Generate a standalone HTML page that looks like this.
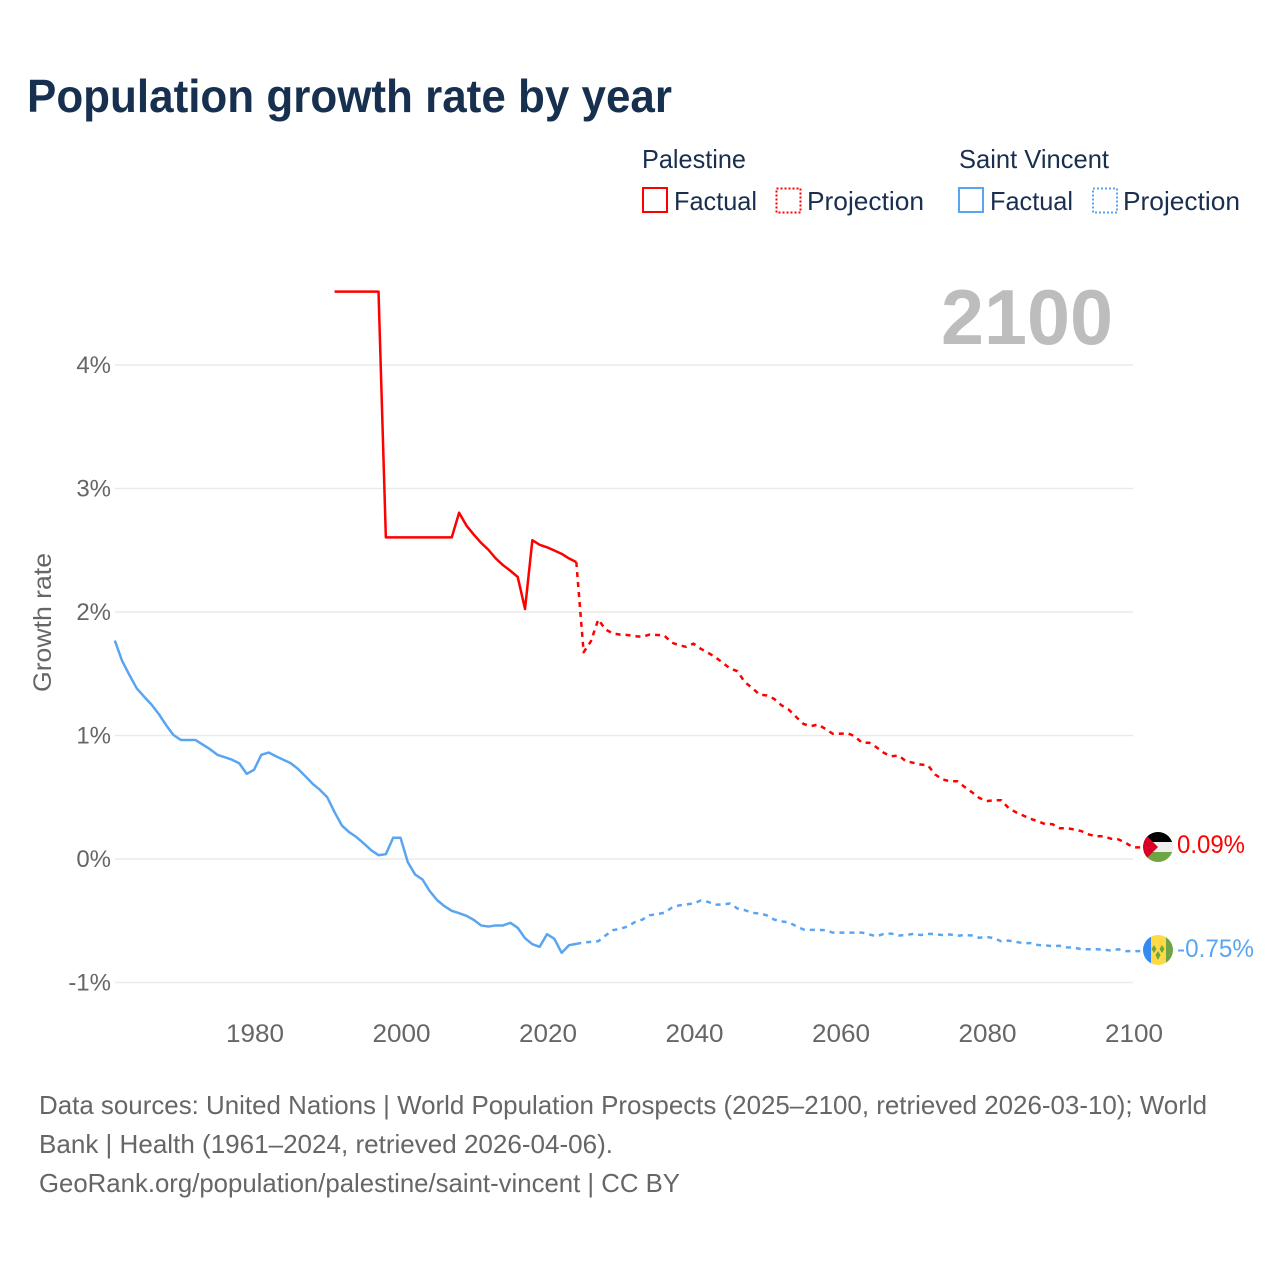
<!DOCTYPE html>
<html lang="en">
<head>
<meta charset="utf-8">
<title>Population growth rate by year</title>
<style>
  html, body { margin: 0; padding: 0; background: #fff; }
  svg { display: block; font-family: "Liberation Sans", sans-serif; }
</style>
</head>
<body>
<svg id="chart" width="1280" height="1280" viewBox="0 0 1280 1280" xmlns="http://www.w3.org/2000/svg">
  <rect width="1280" height="1280" fill="#ffffff"/>
  <text x="27" y="112" font-size="46" font-weight="700" fill="#18304f" textLength="645" lengthAdjust="spacingAndGlyphs">Population growth rate by year</text>

  <g font-size="26" fill="#1a2f4f">
    <text x="642" y="168" textLength="104" lengthAdjust="spacingAndGlyphs">Palestine</text>
    <text x="959" y="168" textLength="150" lengthAdjust="spacingAndGlyphs">Saint Vincent</text>
    <rect x="643" y="188" width="24" height="24" fill="none" stroke="#ff0000" stroke-width="2"/>
    <text x="674" y="210" textLength="83" lengthAdjust="spacingAndGlyphs">Factual</text>
    <rect x="776.5" y="188.5" width="24" height="24" fill="none" stroke="#ff0000" stroke-width="2" stroke-dasharray="2 2"/>
    <text x="807" y="210" textLength="117" lengthAdjust="spacingAndGlyphs">Projection</text>
    <rect x="959" y="188" width="24" height="24" fill="none" stroke="#5aa5f0" stroke-width="2"/>
    <text x="990" y="210" textLength="83" lengthAdjust="spacingAndGlyphs">Factual</text>
    <rect x="1093" y="188.5" width="24" height="24" fill="none" stroke="#5aa5f0" stroke-width="2" stroke-dasharray="2 2"/>
    <text x="1123" y="210" textLength="117" lengthAdjust="spacingAndGlyphs">Projection</text>
  </g>

  <g id="grid"></g>
  <text x="941" y="344" font-size="78" font-weight="700" fill="#bdbdbd" textLength="172" lengthAdjust="spacingAndGlyphs">2100</text>
  <g id="y-ticks" font-size="24" fill="#666666"></g>
  <g id="x-ticks" font-size="25" fill="#666666"></g>
  <text transform="translate(51 692) rotate(-90)" font-size="25" fill="#666666" textLength="139" lengthAdjust="spacingAndGlyphs">Growth rate</text>

  <g id="series" fill="none" stroke-width="2.5" stroke-linejoin="round"></g>

  <defs>
    <clipPath id="flag-clip-ps"><circle cx="1158" cy="847" r="15"/></clipPath>
    <clipPath id="flag-clip-vc"><circle cx="1158" cy="950" r="15"/></clipPath>
  </defs>
  <g clip-path="url(#flag-clip-ps)">
    <rect x="1143" y="832" width="30" height="10" fill="#000000"/>
    <rect x="1143" y="842" width="30" height="10" fill="#eeeeee"/>
    <rect x="1143" y="852" width="30" height="10" fill="#6da544"/>
    <polygon points="1143,832 1158,847 1143,862" fill="#d80027"/>
  </g>
  <g clip-path="url(#flag-clip-vc)">
    <rect x="1143" y="935" width="8" height="30" fill="#338af3"/>
    <rect x="1151" y="935" width="15" height="30" fill="#ffda44"/>
    <rect x="1166" y="935" width="7" height="30" fill="#6da544"/>
    <polygon points="1154,945 1156.5,949 1154,953 1151.5,949" fill="#6da544"/>
    <polygon points="1162,945 1164.5,949 1162,953 1159.5,949" fill="#6da544"/>
    <polygon points="1158,951 1160.5,955 1158,960 1155.5,955" fill="#6da544"/>
  </g>
  <text x="1177" y="853" font-size="25" fill="#ff0000" textLength="68" lengthAdjust="spacingAndGlyphs">0.09%</text>
  <text x="1177" y="957" font-size="25" fill="#5aa5f0" textLength="77" lengthAdjust="spacingAndGlyphs">-0.75%</text>

  <g font-size="26" fill="#666666">
    <text x="39" y="1114" textLength="1168" lengthAdjust="spacingAndGlyphs">Data sources: United Nations | World Population Prospects (2025–2100, retrieved 2026-03-10); World</text>
    <text x="39" y="1153" textLength="574" lengthAdjust="spacingAndGlyphs">Bank | Health (1961–2024, retrieved 2026-04-06).</text>
    <text x="39" y="1192" textLength="641" lengthAdjust="spacingAndGlyphs">GeoRank.org/population/palestine/saint-vincent | CC BY</text>
  </g>
</svg>
<script>
const yTickValues = [-1, 0, 1, 2, 3, 4];
const yTickLabels = ["-1%", "0%", "1%", "2%", "3%", "4%"];
const xTickValues = [1980, 2000, 2020, 2040, 2060, 2080, 2100];
const xTickLabels = ["1980", "2000", "2020", "2040", "2060", "2080", "2100"];

const palestineFactualStart = 1991;
const palestineFactual = [4.59, 4.59, 4.59, 4.59, 4.59, 4.59, 4.59, 2.6, 2.6, 2.6, 2.6, 2.6, 2.6, 2.6, 2.6, 2.6, 2.6, 2.8, 2.696, 2.623, 2.556, 2.5, 2.43, 2.375, 2.33, 2.28, 2.02, 2.577, 2.54, 2.52, 2.494, 2.467, 2.43, 2.4];
const palestineProjectionStart = 2025;
const palestineProjection = [1.67, 1.76, 1.935, 1.854, 1.822, 1.813, 1.81, 1.8, 1.795, 1.813, 1.81, 1.806, 1.749, 1.727, 1.714, 1.74, 1.698, 1.665, 1.63, 1.584, 1.538, 1.517, 1.428, 1.382, 1.328, 1.32, 1.293, 1.241, 1.206, 1.147, 1.09, 1.071, 1.085, 1.05, 1.01, 1.01, 1.015, 0.99, 0.937, 0.937, 0.9, 0.855, 0.828, 0.834, 0.788, 0.775, 0.761, 0.755, 0.68, 0.64, 0.626, 0.626, 0.58, 0.537, 0.491, 0.464, 0.472, 0.472, 0.41, 0.375, 0.348, 0.321, 0.302, 0.278, 0.278, 0.245, 0.245, 0.235, 0.221, 0.194, 0.18, 0.18, 0.16, 0.155, 0.127, 0.09];

const vincentFactualStart = 1961;
const vincentFactual = [1.765, 1.6, 1.485, 1.377, 1.31, 1.247, 1.17, 1.08, 1.0, 0.96, 0.96, 0.96, 0.923, 0.885, 0.84, 0.82, 0.8, 0.77, 0.685, 0.718, 0.84, 0.858, 0.828, 0.8, 0.772, 0.726, 0.667, 0.605, 0.556, 0.496, 0.375, 0.267, 0.213, 0.173, 0.121, 0.067, 0.027, 0.035, 0.168, 0.168, -0.03, -0.13, -0.17, -0.265, -0.337, -0.386, -0.424, -0.443, -0.464, -0.497, -0.542, -0.551, -0.542, -0.542, -0.521, -0.561, -0.645, -0.694, -0.715, -0.613, -0.65, -0.764, -0.702, -0.691];
const vincentProjectionStart = 2025;
const vincentProjection = [-0.68, -0.675, -0.67, -0.623, -0.58, -0.57, -0.55, -0.515, -0.495, -0.46, -0.45, -0.44, -0.4, -0.38, -0.372, -0.364, -0.34, -0.351, -0.375, -0.372, -0.364, -0.405, -0.418, -0.44, -0.445, -0.46, -0.494, -0.51, -0.516, -0.548, -0.575, -0.578, -0.578, -0.58, -0.6, -0.6, -0.6, -0.6, -0.6, -0.615, -0.63, -0.61, -0.608, -0.623, -0.62, -0.61, -0.62, -0.61, -0.612, -0.62, -0.615, -0.626, -0.62, -0.623, -0.642, -0.635, -0.645, -0.67, -0.665, -0.675, -0.685, -0.685, -0.7, -0.703, -0.71, -0.707, -0.72, -0.722, -0.735, -0.735, -0.735, -0.738, -0.745, -0.735, -0.75, -0.75];

const NS = 'http://www.w3.org/2000/svg';
function xScale(year) { return 548 + (year - 2020) * 7.325; }
function yScale(value) { return 859 - value * 123.5; }
function xLine(year) { return xScale(year) - 1; }
function yLine(value) { return yScale(value) - 0.5; }
const flagX = 1146;

const gridGroup = document.getElementById('grid');
const yTickGroup = document.getElementById('y-ticks');
yTickValues.forEach(function (v, i) {
  const line = document.createElementNS(NS, 'line');
  
  
  line.setAttribute('x1', 115);
  line.setAttribute('x2', 1133);
  line.setAttribute('y1', yScale(v));
  line.setAttribute('y2', yScale(v));
  line.setAttribute('stroke', '#eaeaea');
  line.setAttribute('stroke-width', 1.5);
  gridGroup.appendChild(line);
  const label = document.createElementNS(NS, 'text');
  
  
  label.setAttribute('x', 111);
  label.setAttribute('y', yScale(v) + 8);
  label.setAttribute('text-anchor', 'end');
  label.textContent = yTickLabels[i];
  yTickGroup.appendChild(label);
});

const xTickGroup = document.getElementById('x-ticks');
xTickValues.forEach(function (v, i) {
  const label = document.createElementNS(NS, 'text');
  
  
  label.setAttribute('x', xScale(v));
  label.setAttribute('y', 1042);
  label.setAttribute('text-anchor', 'middle');
  label.setAttribute('textLength', 58);
  label.setAttribute('lengthAdjust', 'spacingAndGlyphs');
  label.textContent = xTickLabels[i];
  xTickGroup.appendChild(label);
});

function linePoints(start, values) {
  return values.map(function (v, i) {
    return xLine(start + i).toFixed(2) + ',' + yLine(v).toFixed(2);
  });
}

const seriesGroup = document.getElementById('series');

function projectionPath(factualStart, factual, start, values, color) {
  const lastYear = factualStart + factual.length - 1;
  const lastValue = factual[factual.length - 1];
  const anchor = xLine(lastYear).toFixed(2) + ',' + yLine(lastValue).toFixed(2);
  const tail = flagX + ',' + yLine(values[values.length - 1]).toFixed(2);
  const path = document.createElementNS(NS, 'polyline');
  path.setAttribute('points', [anchor].concat(linePoints(start, values), [tail]).join(' '));
  path.setAttribute('stroke', color);
  path.setAttribute('stroke-dasharray', '5 5');
  return path;
}

function factualPath(start, values, color) {
  const path = document.createElementNS(NS, 'polyline');
  path.setAttribute('points', linePoints(start, values).join(' '));
  path.setAttribute('stroke', color);
  return path;
}

const vincentFactualLine = factualPath(vincentFactualStart, vincentFactual, '#5aa5f0');


seriesGroup.appendChild(vincentFactualLine);

const vincentProjectionLine = projectionPath(vincentFactualStart, vincentFactual, vincentProjectionStart, vincentProjection, '#5aa5f0');


seriesGroup.appendChild(vincentProjectionLine);

const palestineFactualLine = factualPath(palestineFactualStart, palestineFactual, '#ff0000');


seriesGroup.appendChild(palestineFactualLine);

const palestineProjectionLine = projectionPath(palestineFactualStart, palestineFactual, palestineProjectionStart, palestineProjection, '#ff0000');


seriesGroup.appendChild(palestineProjectionLine);
</script>
</body>
</html>
